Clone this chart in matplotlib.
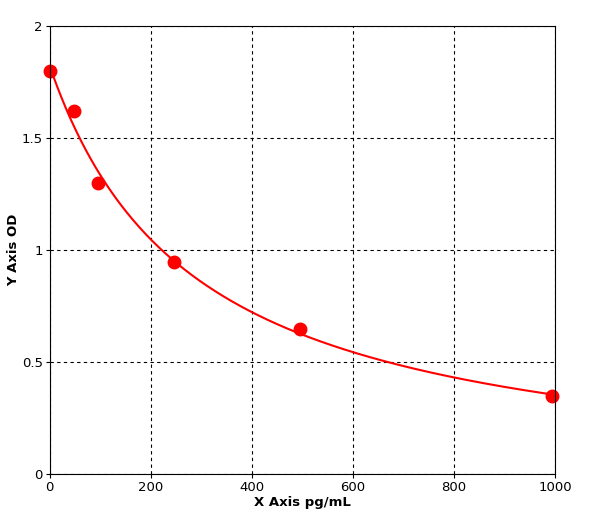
import numpy as np
import matplotlib
matplotlib.use("Agg")
import matplotlib.pyplot as plt

conc = [0, 47.5, 95, 245, 495, 994]
od = [1.80, 1.62, 1.30, 0.946, 0.647, 0.348]
xticks = [0, 200, 400, 600, 800, 1000]
yticks = [0, 0.5, 1, 1.5, 2]
yticklabels = ["0", "0.5", "1", "1.5", "2"]

x = np.array(conc); y = np.array(od)
best = None
for c in np.linspace(50, 2000, 800):
    M = np.column_stack([1/(1+x/c), np.ones_like(x)])
    coef, res, *_ = np.linalg.lstsq(M, y, rcond=None)
    r = np.sum((M@coef - y)**2)
    if best is None or r < best[0]:
        best = (r, c, coef)
_, c, (A, D) = best
xf = np.linspace(0, max(conc), 400)
yf = A/(1+xf/c) + D

fig = plt.figure(figsize=(6, 5.16), dpi=100)
ax = fig.add_axes([0.083, 0.081, 0.842, 0.869])
ax.plot(xf, yf, color="#ff0000", lw=1.5)
ax.plot(conc, od, "o", color="#ff0000", ms=9, clip_on=False)
ax.set_xlim(0, 1000); ax.set_ylim(0, 2)
ax.set_xticks(xticks); ax.set_yticks(yticks); ax.set_yticklabels(yticklabels)
ax.grid(True, color="black", ls=(0, (3, 3)), lw=0.8)
ax.tick_params(labelsize=9.5, direction="out", length=3, pad=2)
ax.set_xlabel("X Axis pg/mL", fontweight="bold", fontsize=9.5, labelpad=1)
ax.set_ylabel("Y Axis OD", fontweight="bold", fontsize=9.5, labelpad=1)
fig.savefig("out.png", dpi=100)
